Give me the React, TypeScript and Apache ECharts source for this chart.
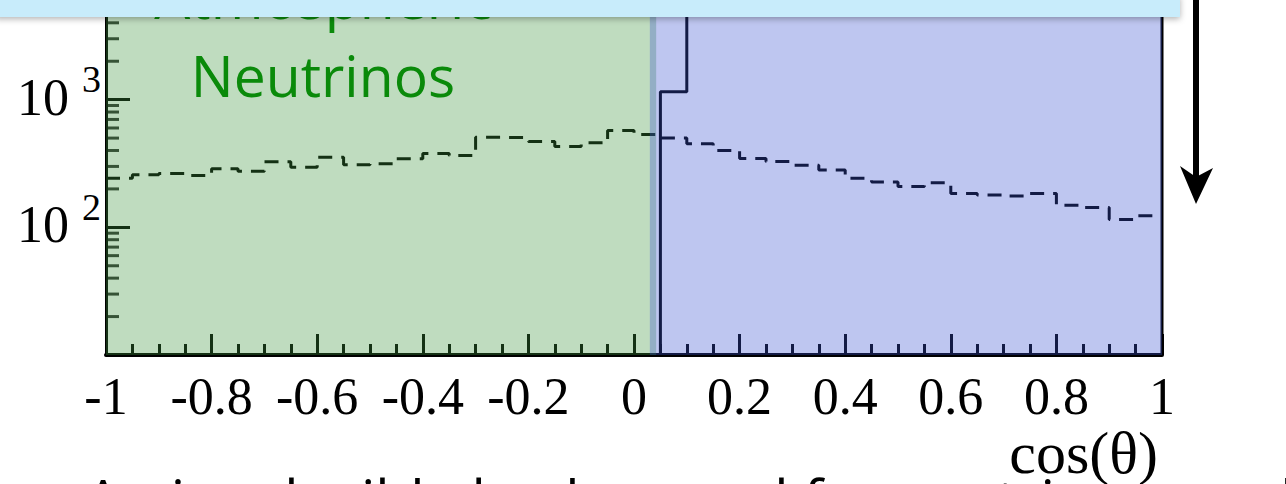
import React, { useEffect, useRef } from "react";
import * as echarts from "echarts";

// ---- data ----
const xEdges = [
  -1, -0.95, -0.9, -0.85, -0.8, -0.75, -0.7, -0.65, -0.6, -0.55, -0.5, -0.45, -0.4, -0.35, -0.3, -0.25,
  -0.2, -0.15, -0.1, -0.05, 0, 0.05, 0.1, 0.15, 0.2, 0.25, 0.3, 0.35, 0.4, 0.45, 0.5, 0.55, 0.6, 0.65,
  0.7, 0.75, 0.8, 0.85, 0.9, 0.95, 1,
];
// atmospheric neutrino expectation (dashed histogram), one value per bin
const atmValues = [
  242, 258, 264, 255, 288, 275, 326, 296, 354, 309, 315, 344, 379, 365, 507, 505, 470, 430, 459, 573,
  533, 502, 451, 400, 346, 328, 307, 281, 242, 227, 209, 223, 184, 179, 176, 184, 149, 143, 115, 123,
];
// solid histogram (down-going muons), goes off the top of the frame
const muonEdges = [0.05, 0.1, 1];
const muonValues = [1155, 15000];
const yFloor = 10;
const yMinorTicks = [
  20, 30, 40, 50, 60, 70, 80, 90, 200, 300, 400, 500, 600, 700, 800, 900, 2000, 3000, 4000, 5000, 6000,
  7000, 8000, 9000,
];
// shaded regions [from, to] in cos(theta)
const upRegion = [-1.004, 0.042];
const downRegion = [0.03, 1.003];

const SERIF = "'Liberation Serif', 'Times New Roman', serif";
const SANS = "'Open Sans', sans-serif";

function stepPoints(edges: number[], vals: number[]) {
  const pts: number[][] = [];
  for (let i = 0; i < vals.length; i++) {
    pts.push([edges[i], vals[i]]);
    pts.push([edges[i + 1], vals[i]]);
  }
  return pts;
}

export default function App() {
  const ref = useRef<HTMLDivElement>(null);
  useEffect(() => {
    document.body.style.margin = "0";
    const chart = echarts.init(ref.current!, undefined, { renderer: "svg" });
    const muonPts = [
      [muonEdges[0], yFloor],
      ...stepPoints(muonEdges, muonValues),
      [muonEdges[muonEdges.length - 1], yFloor],
    ];
    chart.setOption({
      animation: false,
      backgroundColor: "#ffffff",
      grid: { left: 106, right: 124, top: -28, bottom: 129, outerBoundsMode: "none" },
      xAxis: {
        type: "value",
        min: -1,
        max: 1,
        interval: 0.2,
        splitLine: { show: false },
        axisLine: { show: true, onZero: false, lineStyle: { color: "#000", width: 4 } },
        axisTick: { show: true, inside: true, length: 21, lineStyle: { color: "#000", width: 3 } },
        minorTick: { show: true, splitNumber: 4, length: 11, lineStyle: { color: "#000", width: 3 } },
        axisLabel: {
          show: true,
          margin: 15,
          color: "#000",
          fontFamily: SERIF,
          fontSize: 52,
          showMinLabel: true,
          showMaxLabel: true,
        },
        name: "cos(θ)",
        nameLocation: "end",
        nameGap: -4,
        nameTextStyle: {
          fontFamily: SERIF,
          fontSize: 60,
          color: "#000",
          align: "right",
          verticalAlign: "top",
          padding: [68, 0, 0, 0],
        },
      },
      yAxis: {
        type: "log",
        logBase: 10,
        min: 10,
        max: 10000,
        splitLine: { show: false },
        axisLine: { show: true, onZero: false, lineStyle: { color: "#000", width: 3 } },
        axisTick: { show: true, inside: true, length: 24, lineStyle: { color: "#000", width: 3 } },
        axisLabel: {
          show: true,
          margin: 5,
          color: "#000",
          formatter: (v: number) => {
            const r = Math.round(v);
            if (r === 100) return "{b|10 }{s|2}";
            if (r === 1000) return "{b|10 }{s|3}";
            return "";
          },
          rich: {
            b: { fontFamily: SERIF, fontSize: 52, color: "#000", verticalAlign: "bottom", padding: [0, 0, 16, 0] },
            s: { fontFamily: SERIF, fontSize: 38, color: "#000", verticalAlign: "bottom", padding: [0, 0, 41, 0] },
          },
        },
      },
      series: [
        {
          name: "minor y ticks",
          type: "scatter",
          data: yMinorTicks.map((v) => [-1, v]),
          symbol: "rect",
          symbolSize: [13, 3],
          symbolOffset: [6.5, 0],
          itemStyle: { color: "#000" },
          silent: true,
          clip: false,
          z: 3,
        },
        {
          name: "atmospheric",
          type: "line",
          data: stepPoints(xEdges, atmValues),
          showSymbol: false,
          symbol: "none",
          lineStyle: { color: "#000", width: 3, type: [14, 9] },
          silent: true,
          z: 4,
        },
        {
          name: "muons",
          type: "line",
          data: muonPts,
          showSymbol: false,
          symbol: "none",
          lineStyle: { color: "#000", width: 3 },
          silent: true,
          z: 4,
        },
        {
          name: "regions",
          type: "line",
          data: [[0, 100]],
          symbol: "none",
          showSymbol: false,
          lineStyle: { opacity: 0 },
          silent: true,
          clip: false,
          z: 10,
          markArea: {
            silent: true,
            z: 10,
            label: { show: false },
            data: [
              [
                { xAxis: upRegion[0], yAxis: 9.56, itemStyle: { color: "rgba(60,150,60,0.33)" } },
                { xAxis: upRegion[1], yAxis: 10000 },
              ],
              [
                { xAxis: downRegion[0], yAxis: 9.56, itemStyle: { color: "rgba(58,82,209,0.33)" } },
                { xAxis: downRegion[1], yAxis: 10000 },
              ],
            ],
          },
        },
      ],
      graphic: [
        {
          type: "text",
          z: 100,
          style: {
            text: "Atmospheric",
            x: 323,
            y: -3,
            align: "center",
            verticalAlign: "middle",
            fontFamily: SANS,
            fontSize: 57,
            fill: "#0a8a0a",
          },
        },
        {
          type: "text",
          z: 100,
          style: {
            text: "Neutrinos",
            x: 323,
            y: 75,
            align: "center",
            verticalAlign: "middle",
            fontFamily: SANS,
            fontSize: 57,
            fill: "#0a8a0a",
          },
        },
        {
          type: "text",
          z: 5,
          style: {
            text: "An irreducible background for neutrino searches",
            x: 85,
            y: 499,
            align: "left",
            verticalAlign: "middle",
            fontFamily: SANS,
            fontSize: 57,
            fill: "#000",
          },
        },
        {
          type: "rect",
          z: 110,
          shape: { x: -5, y: -5, width: 1185, height: 22 },
          style: { fill: "#c8ecfb", shadowBlur: 6, shadowOffsetY: 2, shadowColor: "rgba(0,0,0,0.3)" },
        },
        {
          type: "line",
          z: 120,
          shape: { x1: 1196, y1: 0, x2: 1196, y2: 180 },
          style: { stroke: "#000", lineWidth: 6 },
        },
        {
          type: "polygon",
          z: 120,
          shape: { points: [[1180, 166], [1196, 177], [1213, 168], [1196, 204]] },
          style: { fill: "#000" },
        },
      ],
    });
    return () => chart.dispose();
  }, []);
  return <div ref={ref} style={{ width: 1286, height: 484 }} />;
}
